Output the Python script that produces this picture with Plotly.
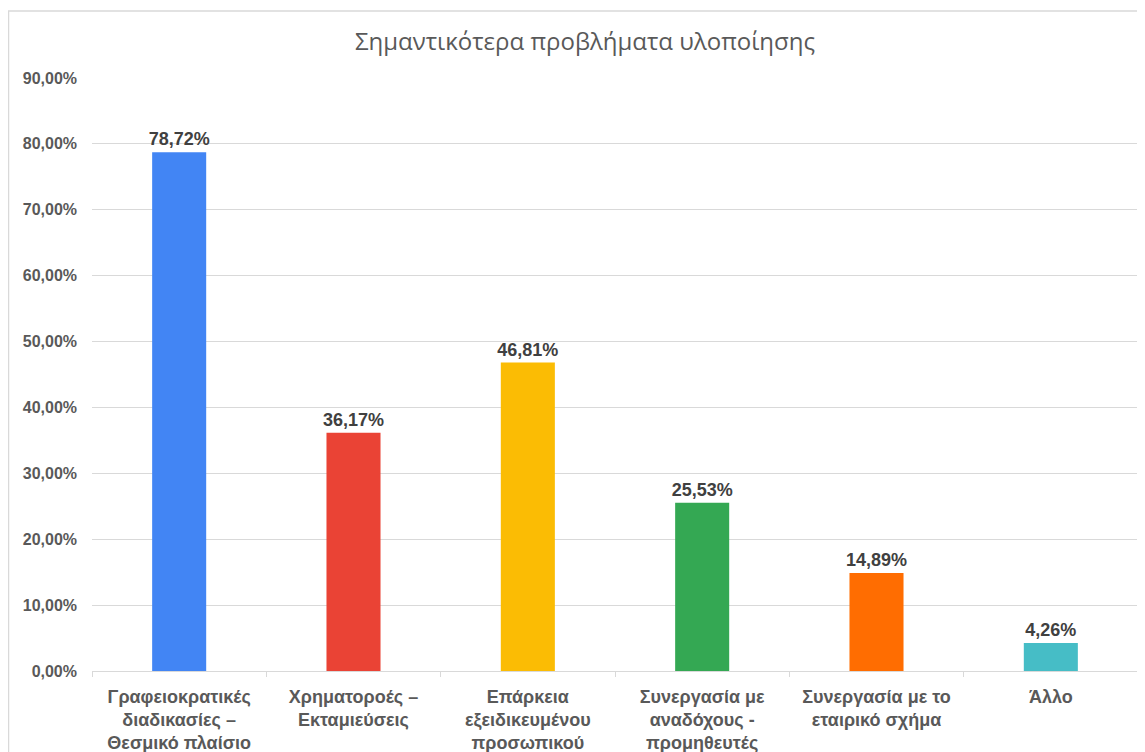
import plotly.graph_objects as go

# Data
categories = [
    "Γραφειοκρατικές<br>διαδικασίες –<br>Θεσμικό πλαίσιο",
    "Χρηματοροές –<br>Εκταμιεύσεις",
    "Επάρκεια<br>εξειδικευμένου<br>προσωπικού",
    "Συνεργασία με<br>αναδόχους -<br>προμηθευτές",
    "Συνεργασία με το<br>εταιρικό σχήμα",
    "Άλλο",
]
shares = [0.7872, 0.3617, 0.4681, 0.2553, 0.1489, 0.0426]
bar_colors = ["#4285F4", "#EA4335", "#FBBC04", "#34A853", "#FF6D01", "#46BDC6"]

W, H = 1145, 752
# page is drawn with an 8px body offset, so margins are shifted accordingly
left, top, pw, ph = 84, 70, 1046, 593
right, bottom = W - left - pw, H - top - ph

fig = go.Figure()
fig.add_trace(go.Bar(
    x=categories,
    y=shares,
    marker=dict(color=bar_colors, line=dict(width=0)),
    texttemplate="<b>%{y:.2%}</b>",
    textposition="outside",
    constraintext="none",
    textfont=dict(family="Liberation Sans, Arial", size=18, color="#404040"),
    cliponaxis=False,
))

# outer chart border (light grey frame)
fig.add_shape(
    type="rect", xref="paper", yref="paper",
    x0=(0.5 - left) / pw, x1=(W + 20 - left) / pw,
    y0=-(bottom + 20) / ph, y1=(ph + top - 3) / ph,
    line=dict(color="#d9d9d9", width=1.5), layer="below",
)

fig.update_layout(
    width=W, height=H,
    margin=dict(l=left, r=right, t=top, b=bottom, autoexpand=False),
    paper_bgcolor="white", plot_bgcolor="white",
    separators=",.",
    bargap=0.69,
    showlegend=False,
    title=dict(
        text="Σημαντικότερα προβλήματα υλοποίησης",
        x=(585 - 8) / W, xanchor="center", y=1 - 34 / H, yanchor="middle",
        font=dict(family="Open Sans", size=24, color="#595959"),
    ),
    xaxis=dict(
        showgrid=False, automargin=False,
        showline=True, linecolor="#d9d9d9", linewidth=1,
        ticks="outside", ticklen=5, tickcolor="#d9d9d9",
        tickson="boundaries",
        ticklabelstandoff=9,
        tickfont=dict(family="Liberation Sans, Arial", size=18, color="#595959", weight="bold"),
    ),
    yaxis=dict(
        range=[0, 0.9], dtick=0.1, tickformat=".2%",
        showgrid=True, gridcolor="#d9d9d9", gridwidth=1,
        zeroline=False, automargin=False,
        ticks="", ticklabelstandoff=14,
        tickfont=dict(family="Liberation Sans, Arial", size=16, color="#595959", weight="bold"),
    ),
)

fig.write_html("out.html")
